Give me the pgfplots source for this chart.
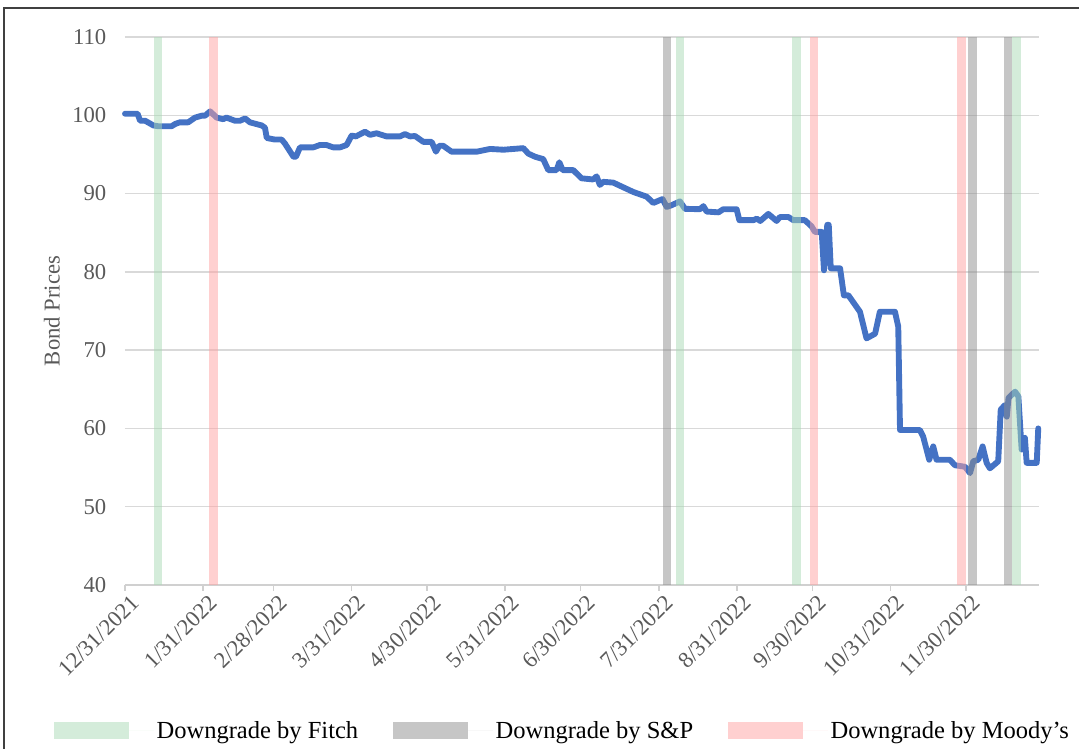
\documentclass[border=0pt]{standalone}
\usepackage{fontspec}
\setmainfont{Liberation Serif}
\usepackage{pgfplots}
\pgfplotsset{compat=1.18}
\definecolor{lineblue}{HTML}{4472C4}
\definecolor{gridgray}{HTML}{D9D9D9}
\definecolor{axisgray}{HTML}{D0D0D0}
\definecolor{ticktext}{HTML}{595959}
\definecolor{fitchC}{RGB}{169,217,181}
\definecolor{spC}{RGB}{141,141,141}
\definecolor{moodyC}{RGB}{255,161,161}
\definecolor{fitchL}{RGB}{212,236,218}
\definecolor{spL}{RGB}{198,198,198}
\definecolor{moodyL}{RGB}{255,208,208}
\begin{document}
\begin{tikzpicture}
\path[use as bounding box] (0,0) rectangle (809.25pt,561.75pt);
\begin{axis}[
  at={(93.75pt,123pt)}, anchor=south west,
  scale only axis, width=685.5pt, height=411pt,
  xmin=0, xmax=363, ymin=40, ymax=110,
  axis x line*=bottom, axis y line*=left,
  y axis line style={draw=none},
  x axis line style={draw=axisgray, line width=1.1pt, -},
  ytick={40,50,...,110},
  ymajorgrids, grid style={gridgray, line width=1.1pt},
  ytick style={draw=none},
  xtick={0,31,59,90,120,151,181,212,243,273,304,334},
  xticklabels={12/31/2021,1/31/2022,2/28/2022,3/31/2022,4/30/2022,5/31/2022,6/30/2022,7/31/2022,8/31/2022,9/30/2022,10/31/2022,11/30/2022},
  tick align=outside, major tick length=4.5pt,
  xtick style={axisgray, line width=1.1pt},
  xticklabel style={rotate=45, anchor=north east, inner sep=1pt, yshift=-3pt, xshift=2pt},
  /pgf/number format/assume math mode=true,
  ticklabel style={font=\fontsize{17}{20}\selectfont, text=ticktext},
  yticklabel style={xshift=-6pt},
  ylabel={Bond Prices},
  ylabel style={at={(axis description cs:-0.08,0.5)}, anchor=center, font=\fontsize{17}{20}\selectfont, text=ticktext},
  legend style={at={(axis description cs:0.479,-0.266)}, anchor=center, draw=none, fill=none, legend columns=3,
    font=\fontsize{18.4}{21}\selectfont,
    /tikz/every even column/.append style={column sep=24pt}},
  legend image code/.code={\fill[#1, draw=none] (0pt,-6.4pt) rectangle (56pt,6.4pt); \path[draw=none] (0pt,0pt) -- (75pt,0pt);},
  clip=false,
]
\addplot[lineblue, line width=4.4pt, line join=round, line cap=round, forget plot] coordinates {
(0,100.2)(5,100.2)(6,99.3)(8,99.3)(11.3,98.7)(13.2,98.6)(18.5,98.6)(20,98.9)(21.8,99.1)(25.1,99.1)(27.8,99.7)(30.5,99.95)(31.8,99.95)(33.8,100.5)(36.4,99.7)(39,99.5)(40.3,99.7)(43.7,99.3)(45.7,99.3)(47.7,99.6)(49.6,99.1)(54.3,98.7)(55.6,98.4)(56.3,97.1)(59.5,96.9)(62.2,96.9)(63.5,96.4)(66.9,94.7)(67.9,94.7)(69.5,95.9)(74.8,95.9)(77.4,96.2)(80,96.2)(82.7,95.9)(85.4,95.9)(88,96.2)(90,97.4)(91.7,97.3)(95.3,97.9)(97.3,97.5)(99.9,97.7)(103.9,97.3)(109.2,97.3)(111.2,97.6)(113.2,97.3)(115.2,97.35)(118.5,96.6)(121.8,96.6)(123.5,95.35)(124.8,96.1)(126.4,96.1)(129.7,95.35)(139.7,95.35)(145,95.7)(150.3,95.6)(158.2,95.8)(160.2,95.1)(162.9,94.7)(166.1,94.4)(168.1,93.0)(171.4,93.0)(172.5,94.0)(173.8,93.0)(178,93.0)(181.3,91.95)(185.9,91.8)(187.3,92.2)(188.6,91.1)(189.9,91.5)(193.9,91.4)(201.9,90.2)(207.2,89.6)(209.8,88.8)(213.5,89.3)(215.1,88.3)(217,88.5)(220.4,89.0)(222.4,88.05)(228.4,88.0)(229.7,88.4)(231,87.7)(235.7,87.6)(237.6,88.0)(242.9,88.0)(244,86.6)(249.6,86.6)(250.9,86.8)(252.3,86.5)(255.5,87.4)(258.8,86.5)(260.1,87.0)(263.5,87.0)(265.4,86.6)(270,86.6)(272.7,85.8)(274,85.1)(276.7,85.1)(277.6,80.2)(278.9,86.0)(279.5,86.0)(280.3,80.45)(284,80.45)(285.5,77.0)(287.3,77.0)(291.9,74.9)(294.5,71.5)(297.9,72.1)(299.8,74.9)(305.8,74.9)(307.1,73.0)(307.8,59.8)(315.7,59.8)(317,58.95)(319.4,56.0)(321,57.7)(322.3,56.0)(327.6,56.0)(329.6,55.3)(333.6,55.1)(335.6,54.3)(336.9,55.8)(338.9,56.0)(340.6,57.7)(342.2,55.6)(343.5,54.9)(346.8,55.8)(347.8,62.4)(349.5,63.0)(350.2,61.5)(350.9,63.9)(353.5,64.7)(354.8,64.1)(356.1,57.3)(357.4,58.8)(358.1,55.6)(362.1,55.6)(362.7,60.0)
};
% Fitch downgrades
\addplot[fill=fitchC, fill opacity=0.5, draw=none, forget plot] coordinates {(11.5,40)(14.7,40)(14.7,110)(11.5,110)} -- cycle;
\addplot[fill=fitchC, fill opacity=0.5, draw=none, forget plot] coordinates {(218.8,40)(222,40)(222,110)(218.8,110)} -- cycle;
\addplot[fill=fitchC, fill opacity=0.5, draw=none, forget plot] coordinates {(264.9,40)(268.5,40)(268.5,110)(264.9,110)} -- cycle;
\addplot[fill=fitchC, fill opacity=0.5, draw=none, forget plot] coordinates {(352.3,40)(355.8,40)(355.8,110)(352.3,110)} -- cycle;
% S&P downgrades
\addplot[fill=spC, fill opacity=0.5, draw=none, forget plot] coordinates {(213.7,40)(216.8,40)(216.8,110)(213.7,110)} -- cycle;
\addplot[fill=spC, fill opacity=0.5, draw=none, forget plot] coordinates {(334.8,40)(338.4,40)(338.4,110)(334.8,110)} -- cycle;
\addplot[fill=spC, fill opacity=0.5, draw=none, forget plot] coordinates {(349,40)(352.3,40)(352.3,110)(349,110)} -- cycle;
% Moody's downgrades
\addplot[fill=moodyC, fill opacity=0.5, draw=none, forget plot] coordinates {(33.4,40)(36.9,40)(36.9,110)(33.4,110)} -- cycle;
\addplot[fill=moodyC, fill opacity=0.5, draw=none, forget plot] coordinates {(272,40)(275.3,40)(275.3,110)(272,110)} -- cycle;
\addplot[fill=moodyC, fill opacity=0.5, draw=none, forget plot] coordinates {(330.4,40)(334,40)(334,110)(330.4,110)} -- cycle;
\addlegendimage{fill=fitchL}
\addlegendentry{Downgrade by Fitch}
\addlegendimage{fill=spL}
\addlegendentry{Downgrade by S\&P}
\addlegendimage{fill=moodyL}
\addlegendentry{Downgrade by Moody’s}
\end{axis}
\draw[black!75, line width=1.1pt] (3pt,0pt) -- (3pt,555.75pt) -- (809.25pt,555.75pt);
\end{tikzpicture}
\end{document}
